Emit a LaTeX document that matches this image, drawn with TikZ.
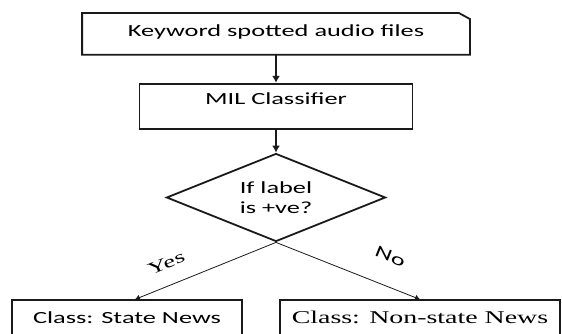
\documentclass[tikz,border=0pt]{standalone}
\usepackage{fontspec}
\usepackage{tikz}
\usetikzlibrary{arrows.meta,positioning,shapes.geometric}
\newfontfamily\sansbox[FakeStretch=1.55]{Carlito}
\newfontfamily\serifbox[FakeStretch=1.55]{Liberation Serif}
\definecolor{Ink}{HTML}{1A1A1A}

\begin{document}
\begin{tikzpicture}[x=1pt,y=-1pt,
    block/.style={rectangle,draw=Ink,line width=1.8pt,inner sep=4pt,text height=19pt,text depth=22pt,align=center,font=\sansbox\fontsize{17}{20}\selectfont},
    decision/.style={diamond,aspect=2.5,draw=Ink,line width=1.8pt,minimum width=219pt,minimum height=88pt,inner sep=1pt,align=center,font=\sansbox\fontsize{17}{20}\selectfont},
    arrow/.style={-{Latex[length=7pt,width=8pt]},line width=1.3pt,draw=Ink},
    branch/.style={-{Latex[length=5pt,width=6pt]},line width=0.8pt,draw=Ink}
]
\useasboundingbox (0,0) rectangle (562,334);
\clip (0,0) rectangle (562,334);
% input box, outline drawn by hand for the cut corner
\node[block,draw=none,anchor=north,minimum width=386pt,text height=19pt,text depth=13pt] (kws) at (276,13) {Keyword spotted audio files};
\draw[line width=1.8pt,draw=Ink] (kws.north west) -- ([xshift=-11pt]kws.north east) -- ([yshift=-6pt]kws.north east) -- (kws.south east) -- (kws.south west) -- cycle;
\node[block,below=28pt of kws,minimum width=273pt,text height=17pt,text depth=20pt] (mil) {MIL Classifier};
\node[decision,below=23pt of mil] (test) {If label\\is +ve?};
\node[block,below=57pt of test,xshift=-149pt,minimum width=230pt] (state) {Class: State News};
\node[block,below=57pt of test,xshift=144pt,minimum width=280pt,font=\serifbox\fontsize{18}{20}\selectfont] (nonstate) {Class: Non-state News};
\draw[arrow] (kws) -- (mil);
\draw[arrow] (mil) -- (test);
\draw[branch] (test.south) -- node[pos=0.72,sloped,above=15pt,inner sep=1pt,font=\serifbox\fontsize{17}{20}\selectfont] (yes) {Yes} ([xshift=8pt]state.north);
\draw[branch] (test.south) -- node[pos=0.72,sloped,above=22pt,inner sep=1pt,font=\sansbox\fontsize{17}{20}\selectfont] (no) {No} (nonstate.north);
\end{tikzpicture}
\end{document}
